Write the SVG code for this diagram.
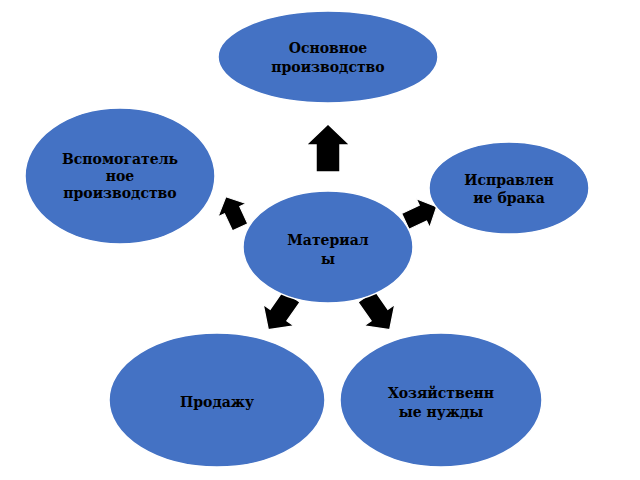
<svg xmlns="http://www.w3.org/2000/svg" width="640" height="480" viewBox="0 0 640 480">
<style>
.n{fill:#4472C4;stroke:#ffffff;stroke-width:1.5}
.t{font-family:"DejaVu Serif",serif;font-weight:bold;font-size:14px;fill:#000;text-anchor:middle}
.a{fill:#000;stroke:#fff;stroke-width:1.5}
</style>
<defs><path id="arr" d="M0,-24 L22,-3 L12,-3 L12,24 L-12,24 L-12,-3 L-22,-3 Z"/></defs>
<rect width="640" height="480" fill="#fff"/>
<g id="connectors">
<use href="#arr" class="a" transform="translate(328,148)"/>
<use href="#arr" class="a" transform="translate(233,212) rotate(-25) scale(0.7)"/>
<use href="#arr" class="a" transform="translate(421,214) rotate(65) scale(0.72)"/>
<use href="#arr" class="a" transform="translate(280,313) rotate(-145) scale(0.85)"/>
<use href="#arr" class="a" transform="translate(378,313) rotate(145) scale(0.85)"/>
</g>
<g id="top"><ellipse class="n" cx="328" cy="57" rx="110" ry="46"/><text class="t" x="328" y="53">Основное</text><text class="t" x="328" y="72">производство</text></g>
<g id="left"><ellipse class="n" cx="120" cy="176" rx="95" ry="68"/><text class="t" x="120" y="164">Вспомогатель</text><text class="t" x="120" y="181">ное</text><text class="t" x="120" y="198">производство</text></g>
<g id="right"><ellipse class="n" cx="509" cy="188" rx="80" ry="46"/><text class="t" x="509" y="185">Исправлен</text><text class="t" x="509" y="203">ие брака</text></g>
<g id="center"><ellipse class="n" cx="328" cy="247" rx="85" ry="56"/><text class="t" x="328" y="245">Материал</text><text class="t" x="328" y="264">ы</text></g>
<g id="bl"><ellipse class="n" cx="217" cy="400" rx="108" ry="67"/><text class="t" x="217" y="407">Продажу</text></g>
<g id="br"><ellipse class="n" cx="441" cy="400" rx="101" ry="67"/><text class="t" x="441" y="398">Хозяйственн</text><text class="t" x="441" y="417">ые нужды</text></g>
</svg>
